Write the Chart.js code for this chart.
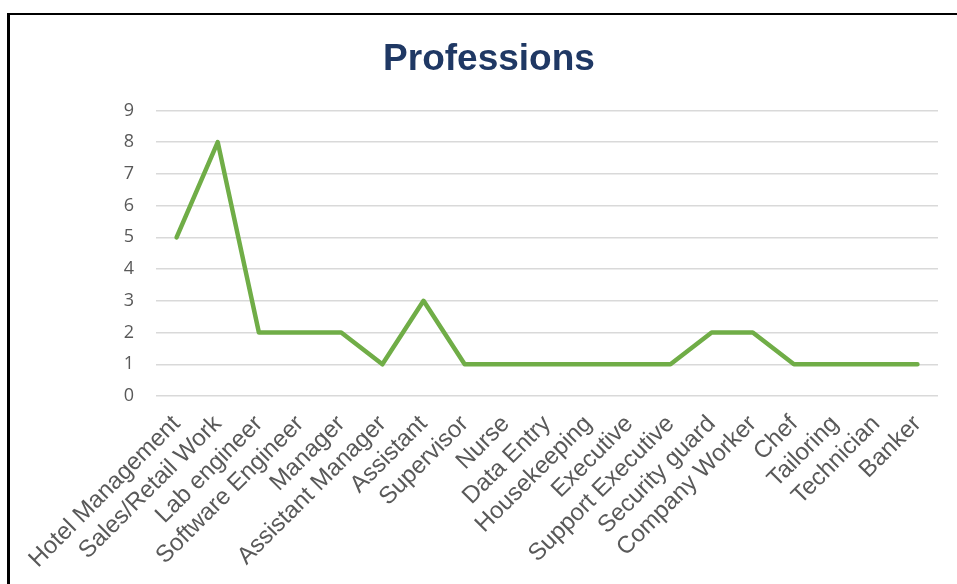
<!DOCTYPE html>
<html>
<head>
<meta charset="utf-8">
<script src="https://cdn.jsdelivr.net/npm/chart.js@4.4.0/dist/chart.umd.min.js"></script>
<style>
  html, body { margin: 0; padding: 0; background: #fff; }
  #wrap { position: relative; width: 957px; height: 584px; }
  #marco {
    position: absolute; left: 7px; top: 13px; right: 0; bottom: 0;
    border-left: 3px solid #000; border-top: 2.5px solid #000;
    pointer-events: none;
  }
</style>
</head>
<body>
<div id="wrap">
  <canvas id="grafica" width="957" height="584"></canvas>
  <div id="marco"></div>
</div>
<script>
// datos
const profesiones = ['Hotel Management', 'Sales/Retail Work', 'Lab engineer', 'Software Engineer',
  'Manager', 'Assistant Manager', 'Assistant', 'Supervisor', 'Nurse', 'Data Entry',
  'Housekeeping', 'Executive', 'Support Executive', 'Security guard', 'Company Worker',
  'Chef', 'Tailoring', 'Technician', 'Banker'];
const cantidades = [5, 8, 2, 2, 2, 1, 3, 1, 1, 1, 1, 1, 1, 2, 2, 1, 1, 1, 1];
const ejeY = [0, 1, 2, 3, 4, 5, 6, 7, 8, 9];

const ctx = document.getElementById('grafica').getContext('2d');
new Chart(ctx, {
  type: 'line',
  data: {
    labels: profesiones,
    datasets: [{
      label: 'Professions',
      data: cantidades,
      borderColor: '#70AD47',
      backgroundColor: '#70AD47',
      borderWidth: 4.5,
      borderCapStyle: 'round',
      borderJoinStyle: 'round',
      pointRadius: 0,
      tension: 0
    }]
  },
  options: {
    responsive: false,
    animation: false,
    layout: { padding: { left: 40, right: 19, top: 0, bottom: 0 } },
    plugins: {
      legend: { display: false },
      tooltip: { enabled: false },
      title: {
        display: true,
        text: 'Professions',
        color: '#1F3864',
        font: { family: 'Liberation Sans, Arial, sans-serif', size: 37, weight: 'bold' },
        padding: { top: 38, bottom: 28 }
      }
    },
    scales: {
      x: {
        offset: true,
        grid: { display: false },
        border: { display: false },
        ticks: {
          color: '#595959',
          font: { family: 'Liberation Sans, Arial, sans-serif', size: 24 },
          minRotation: 45,
          maxRotation: 45,
          autoSkip: false,
          padding: 6
        },
        afterFit: (s) => { s.height = 188; }
      },
      y: {
        min: ejeY[0],
        max: ejeY[ejeY.length - 1],
        border: { display: false },
        grid: { color: '#d9d9d9', lineWidth: 1.5, drawTicks: false },
        ticks: {
          stepSize: 1,
          color: '#595959',
          font: { family: 'Open Sans, sans-serif', size: 18 },
          padding: 22,
          callback: (v) => ejeY.includes(v) ? v : ''
        },
        afterFit: (s) => { s.width = 116; }
      }
    }
  }
});
</script>
</body>
</html>
